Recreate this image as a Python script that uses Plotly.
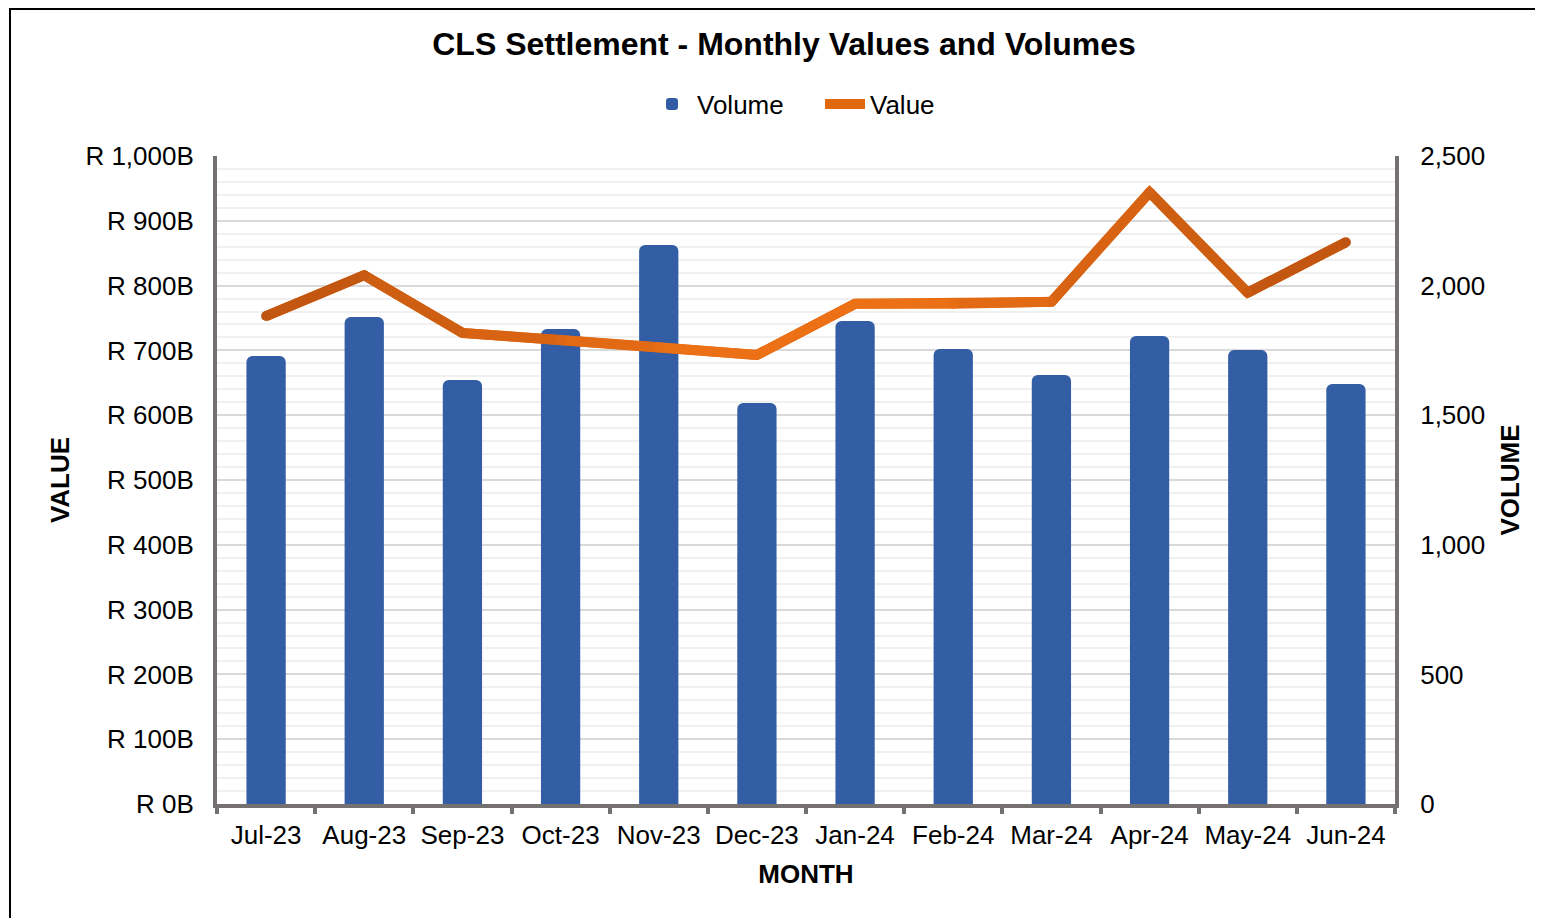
import plotly.graph_objects as go

# ---- data ----
months = ["Jul-23", "Aug-23", "Sep-23", "Oct-23", "Nov-23", "Dec-23",
          "Jan-24", "Feb-24", "Mar-24", "Apr-24", "May-24", "Jun-24"]
volumes = [1728, 1879, 1636, 1833, 2157, 1547, 1863, 1755, 1655, 1806, 1752, 1620]
values_bn = [753, 816, 727, 716, 705, 693, 772, 772, 775, 944, 789, 867]  # R billions

title_text = "CLS Settlement - Monthly Values and Volumes"

# ---- styling ----
FONT = "Liberation Sans, Arial, sans-serif"
AXIS_GREY = "#767171"
BAR_COLOR = "#335DA5"
BROWN = (190, 84, 16)
ORANGE = (236, 112, 22)


def grad_color(pos, n):
    # horizontal gradient: brown at both ends, bright orange in middle
    c = (n - 1) / 2.0
    f = 1 - abs(pos - c) / c
    f = min(1.0, max(0.0, f * 1.25))
    rgb = [round(BROWN[k] + (ORANGE[k] - BROWN[k]) * f) for k in range(3)]
    return "rgb({},{},{})".format(*rgb)


fig = go.Figure()

fig.add_trace(go.Bar(
    x=months, y=volumes, name="Volume",
    marker=dict(color=BAR_COLOR, line=dict(width=0), cornerradius=6),
    width=0.4, yaxis="y", xaxis="x",
))

# base line (legend entry)
fig.add_trace(go.Scatter(
    x=months, y=values_bn, name="Value", mode="lines",
    line=dict(color="#E0690F", width=10), yaxis="y2",
))

n = len(months)
for i in range(n - 1):
    fig.add_trace(go.Scatter(
        x=months[i:i + 2], y=values_bn[i:i + 2], mode="lines",
        line=dict(color=grad_color(i + 0.5, n), width=10),
        yaxis="y2", showlegend=False, hoverinfo="skip",
    ))
fig.add_trace(go.Scatter(
    x=months, y=values_bn, mode="markers",
    marker=dict(size=10, color=[grad_color(i, n) for i in range(n)], line=dict(width=0)),
    yaxis="y2", showlegend=False, hoverinfo="skip",
))

# page body adds an 8px offset; work in screen pixels and convert
OFF = 8
W, H = 1543, 918
ML, MT = 217 - OFF, 156 - OFF
PW, PH = 1178, 648
MR = W - ML - PW
MB = H - MT - PH


def px_x(p):
    return (p - OFF - ML) / PW


def px_y(p):
    return (H - MB - (p - OFF)) / PH


fig.update_layout(
    width=W, height=H,
    margin=dict(l=ML, r=MR, t=MT, b=MB, autoexpand=False),
    paper_bgcolor="white", plot_bgcolor="white",
    font=dict(family=FONT, size=26, color="black"),
    title=dict(text="<b>" + title_text + "</b>", font=dict(size=32, color="black"),
               x=px_x(784), xref="paper", xanchor="center",
               y=1 - (44 - OFF) / H, yref="container", yanchor="middle"),
    legend=dict(orientation="h", x=px_x(820), xanchor="center", y=px_y(104), yanchor="middle",
                font=dict(size=26), bgcolor="rgba(0,0,0,0)", itemwidth=40, tracegroupgap=0,
                entrywidth=118, entrywidthmode="pixels"),
    bargap=0.6,
    xaxis=dict(
        type="category", range=[-0.5, len(months) - 0.5],
        showline=True, linecolor=AXIS_GREY, linewidth=4,
        ticks="outside", tickson="boundaries", ticklen=6, tickwidth=4, tickcolor=AXIS_GREY,
        tickfont=dict(size=26), tickangle=0, ticklabelstandoff=5,
        showgrid=False, zeroline=False, automargin=False,
        title=dict(text="<b>MONTH</b>", font=dict(size=26), standoff=17),
    ),
    yaxis=dict(
        side="right", range=[0, 2500], dtick=500, tickformat=",d",
        showgrid=False, zeroline=False, showline=True, linecolor=AXIS_GREY, linewidth=4,
        ticks="", ticklabelstandoff=16, tickfont=dict(size=26), automargin=False,
        title=dict(text="<b>VOLUME</b>", font=dict(size=26), standoff=18),
    ),
    yaxis2=dict(
        overlaying="y", side="left", range=[0, 1000], dtick=100,
        tickprefix="R ", ticksuffix="B", tickformat=",d",
        showgrid=True, gridcolor="#D9D9D9", gridwidth=2,
        minor=dict(dtick=20, showgrid=True, gridcolor="#F0F0F0", gridwidth=2),
        zeroline=False, showline=True, linecolor=AXIS_GREY, linewidth=4,
        ticks="", ticklabelstandoff=14, tickfont=dict(size=26), automargin=False,
        title=dict(text="<b>VALUE</b>", font=dict(size=26), standoff=9),
    ),
    shapes=[dict(type="rect", xref="paper", yref="paper",
                 x0=px_x(10), x1=px_x(1570), y0=px_y(940), y1=px_y(OFF + 1),
                 line=dict(color="black", width=2), fillcolor="rgba(0,0,0,0)", layer="above")],
)

fig.write_html("out.html")
